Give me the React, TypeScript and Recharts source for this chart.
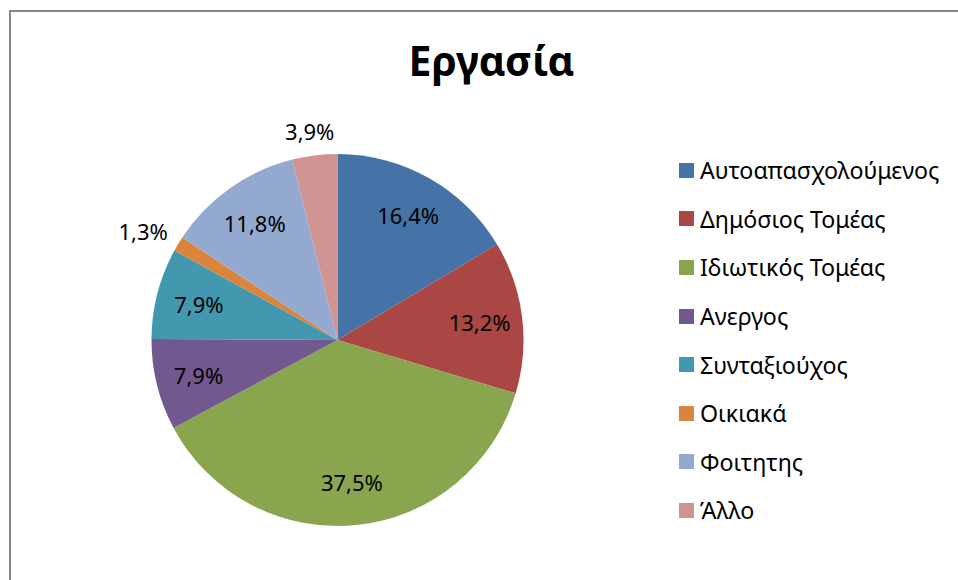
import { PieChart, Pie, Cell, Legend } from "recharts";

const CATEGORIES = [
  "Αυτοαπασχολούμενος",
  "Δημόσιος Τομέας",
  "Ιδιωτικός Τομέας",
  "Ανεργος",
  "Συνταξιούχος",
  "Οικιακά",
  "Φοιτητης",
  "Άλλο",
];
const SHARES = [16.4, 13.2, 37.5, 7.9, 7.9, 1.3, 11.8, 3.9];
const COLORS = ["#4572A7", "#AA4643", "#89A54E", "#71588F", "#4198AF", "#DB843D", "#93A9CF", "#D19392"];

const FONT = "'Noto Sans', 'Open Sans', sans-serif";
const RAD = Math.PI / 180;

const data = CATEGORIES.map((name, i) => ({ name, value: SHARES[i] }));

const fmt = (v: number) => v.toFixed(1).replace(".", ",") + "%";

function renderLabel(props: any) {
  const { cx, cy, midAngle, outerRadius, value } = props;
  const cos = Math.cos(-midAngle * RAD);
  const sin = Math.sin(-midAngle * RAD);
  let x: number, y: number;
  if (value < 5) {
    // outside, text box edge just off the rim
    x = cx + (outerRadius + 14) * cos + 27 * cos;
    y = cy + (outerRadius + 14) * sin + 11 * sin;
  } else {
    x = cx + outerRadius * 0.77 * cos;
    y = cy + outerRadius * 0.77 * sin;
  }
  return (
    <text x={x} y={y} textAnchor="middle" dominantBaseline="central" fill="#000" fontSize={22} fontFamily={FONT}>
      {fmt(value)}
    </text>
  );
}

function LegendBox() {
  return (
    <div style={{ fontFamily: FONT, fontSize: 23.2, color: "#000" }}>
      {CATEGORIES.map((name, i) => (
        <div key={name} style={{ display: "flex", alignItems: "center", height: 48.6 }}>
          <span style={{ width: 15, height: 15, background: COLORS[i], display: "inline-block", marginRight: 6 }} />
          <span style={{ whiteSpace: "nowrap" }}>{name}</span>
        </div>
      ))}
    </div>
  );
}

export default function App() {
  return (
    <div style={{ position: "absolute", left: 0, top: 0, width: 958, height: 580, background: "#fff", overflow: "hidden" }}>
      <div
        style={{
          position: "absolute",
          left: 9,
          top: 10,
          width: 1000,
          height: 600,
          borderLeft: "2px solid #878787",
          borderTop: "2px solid #878787",
        }}
      />
      <div
        style={{
          position: "absolute",
          left: 0,
          top: 33,
          width: 983,
          textAlign: "center",
          fontFamily: FONT,
          fontWeight: 700,
          fontSize: 41,
          lineHeight: "54px",
          color: "#000",
        }}
      >
        Εργασία
      </div>
      <div style={{ position: "absolute", left: 0, top: 0 }}>
        <PieChart width={958} height={580} margin={{ top: 0, right: 0, bottom: 0, left: 0 }}>
          <Pie
            data={data}
            dataKey="value"
            nameKey="name"
            cx={337.5}
            cy={340}
            outerRadius={186}
            startAngle={90}
            endAngle={-270}
            stroke="none"
            label={renderLabel}
            labelLine={false}
            isAnimationActive={false}
          >
            {data.map((d, i) => (
              <Cell key={d.name} fill={COLORS[i]} />
            ))}
          </Pie>
          <Legend
            layout="vertical"
            align="right"
            verticalAlign="top"
            content={() => <LegendBox />}
            wrapperStyle={{ left: 679, top: 146, width: 279 }}
          />
        </PieChart>
      </div>
    </div>
  );
}
